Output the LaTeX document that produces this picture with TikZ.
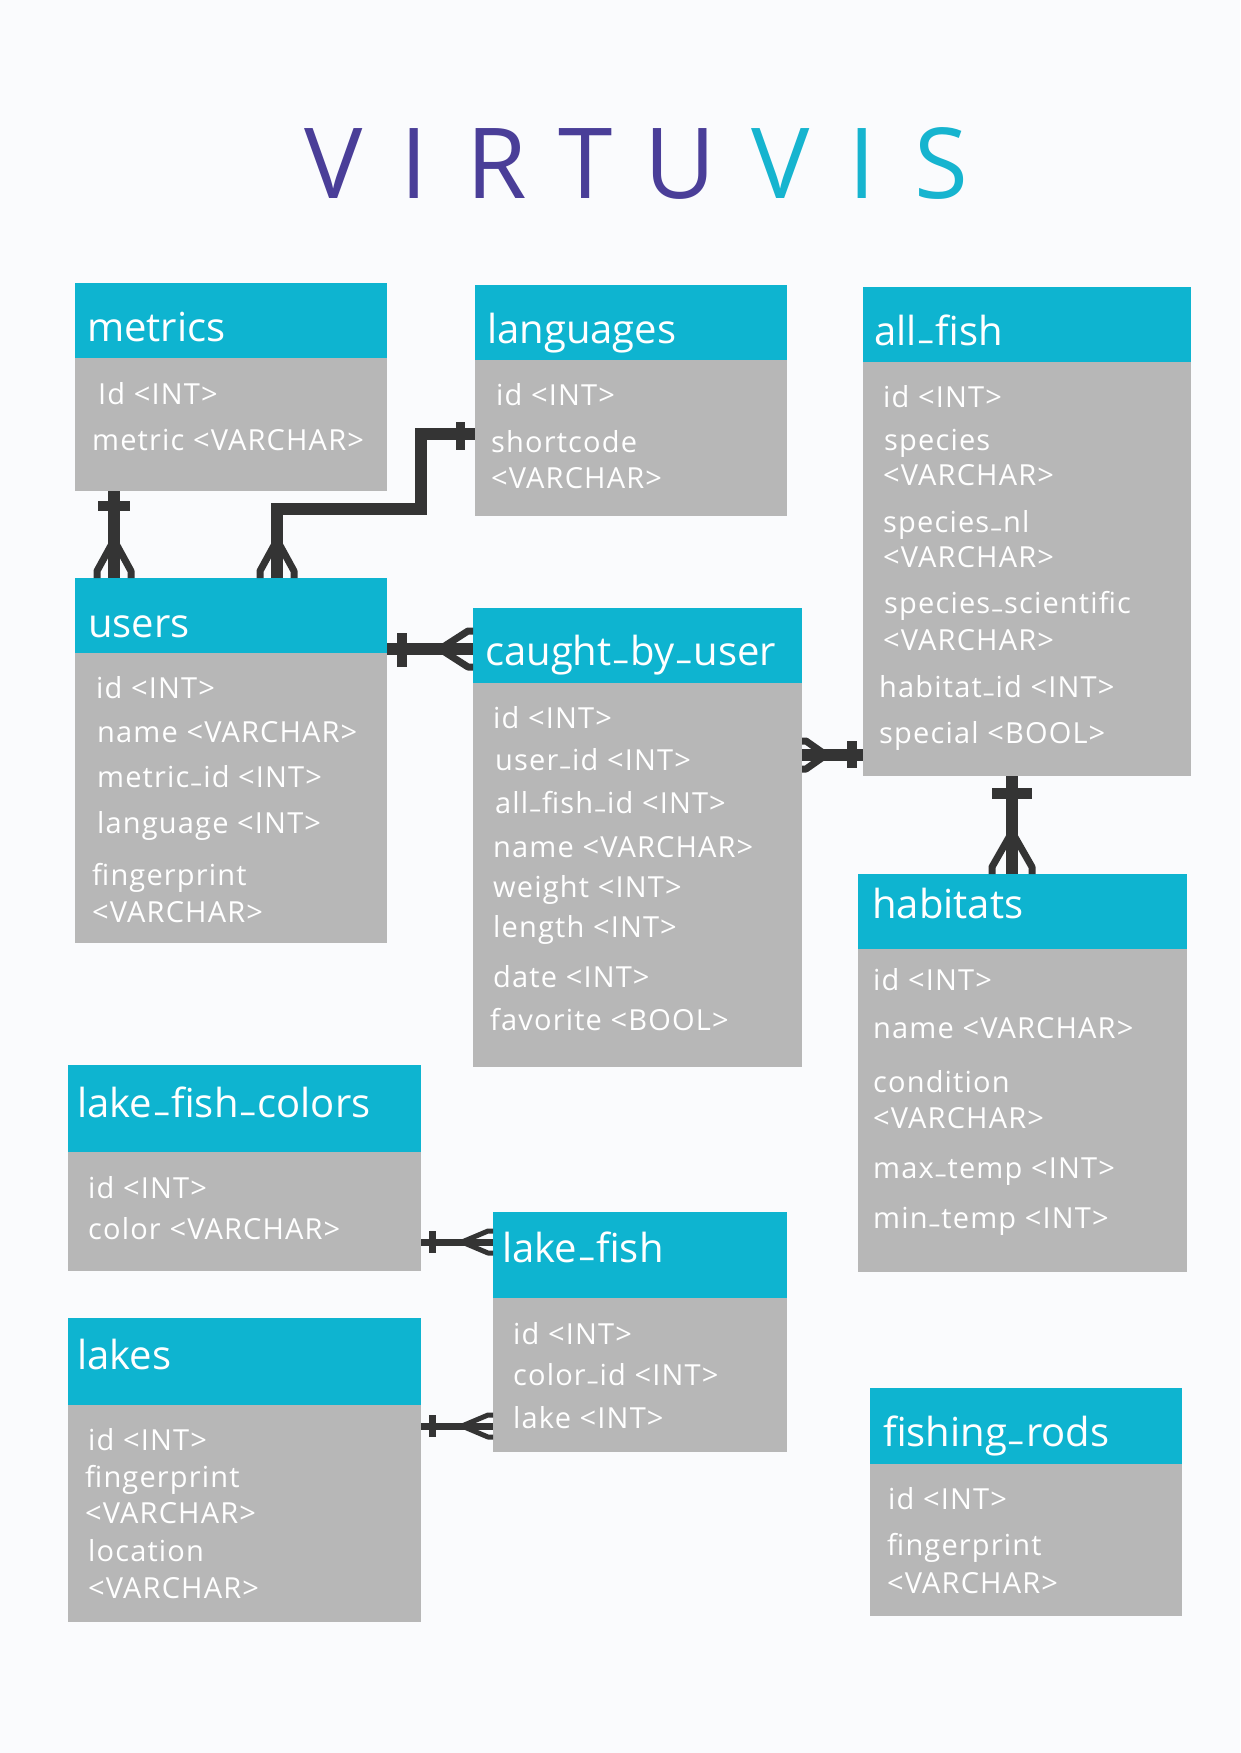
\documentclass[tikz,border=0pt]{standalone}
\usepackage{fontspec}
\setmainfont{Open Sans}
\newfontfamily\hfam{Open Sans}
\newfontfamily\bfam{Open Sans}[LetterSpace=4]
\usetikzlibrary{calc}
\newcommand\us{\kern0.07em\raisebox{0.19em}{\scalebox{0.75}[1]{\_}}\kern0.07em}
\definecolor{headc}{RGB}{14,180,208}
\definecolor{bodyc}{RGB}{183,183,183}
\definecolor{linec}{RGB}{52,52,52}
\definecolor{purp}{RGB}{74,62,152}
\definecolor{ttlc}{RGB}{22,180,207}
\definecolor{bgc}{RGB}{250,251,253}
\begin{document}
\begin{tikzpicture}[x=1pt,y=-1pt,
  hdr/.style={fill=headc,draw=none,inner sep=0pt,outer sep=0pt,anchor=north west},
  bdy/.style={fill=bodyc,draw=none,inner sep=0pt,outer sep=0pt,anchor=north west},
  htxt/.style={text=white,font=\hfam\fontsize{40}{44}\selectfont,anchor=base west,inner sep=0pt},
  ftxt/.style={text=white,font=\bfam\fontsize{29}{32}\selectfont,anchor=base west,inner sep=0pt},
  ttl/.style={font=\hfam\fontsize{98}{100}\selectfont,anchor=base,inner sep=0pt},
  rel/.style={draw=linec,line width=12pt},
  relthin/.style={draw=linec,line width=7pt},
  barmark/.style={draw=linec,line width=10pt},
  barthin/.style={draw=linec,line width=7pt},
  prong/.style={draw=linec,line width=7pt,line join=round},
  prongthin/.style={draw=linec,line width=5pt,line join=round}]
\useasboundingbox (0,0) rectangle (1240,1753);
\fill[bgc] (0,0) rectangle (1240,1753);

% title
\node[ttl,text=purp] (t1) at (334,198) {V};
\node[ttl,text=purp] (t2) at (414,198) {I};
\node[ttl,text=purp] (t3) at (497,198) {R};
\node[ttl,text=purp] (t4) at (586,198) {T};
\node[ttl,text=purp] (t5) at (680,198) {U};
\node[ttl,text=ttlc] (t6) at (781,198) {V};
\node[ttl,text=ttlc] (t7) at (862,198) {I};
\node[ttl,text=ttlc] (t8) at (941,198) {S};

% metrics
\node[hdr,minimum width=312pt,minimum height=75pt] (metricsH) at (75,283) {};
\node[bdy,minimum width=312pt,minimum height=133pt] (metricsB) at (75,358) {};
\node[htxt] (metricsT) at (87,341) {metrics};
\node[ftxt] (metrics1) at (98,404) {Id <INT>};
\node[ftxt] (metrics2) at (92,450) {metric <VARCHAR>};

% languages
\node[hdr,minimum width=312pt,minimum height=75pt] (languagesH) at (475,285) {};
\node[bdy,minimum width=312pt,minimum height=156pt] (languagesB) at (475,360) {};
\node[htxt] (languagesT) at (487,343) {languages};
\node[ftxt] (languages1) at (496,405) {id <INT>};
\node[ftxt] (languages2) at (491,452) {shortcode};
\node[ftxt] (languages3) at (491,488) {<VARCHAR>};

% all_fish
\node[hdr,minimum width=328pt,minimum height=75pt] (allfishH) at (863,287) {};
\node[bdy,minimum width=328pt,minimum height=414pt] (allfishB) at (863,362) {};
\node[htxt] (allfishT) at (874,345) {all\us fish};
\node[ftxt] (allfish1) at (883,407) {id <INT>};
\node[ftxt] (allfish2) at (884,450) {species};
\node[ftxt] (allfish3) at (883,485) {<VARCHAR>};
\node[ftxt] (allfish4) at (883,532) {species\us nl};
\node[ftxt] (allfish5) at (883,567) {<VARCHAR>};
\node[ftxt] (allfish6) at (884,613) {species\us scientific};
\node[ftxt] (allfish7) at (883,650) {<VARCHAR>};
\node[ftxt] (allfish8) at (879,697) {habitat\us id <INT>};
\node[ftxt] (allfish9) at (879,743) {special <BOOL>};

% users
\node[hdr,minimum width=312pt,minimum height=75pt] (usersH) at (75,578) {};
\node[bdy,minimum width=312pt,minimum height=290pt] (usersB) at (75,653) {};
\node[htxt] (usersT) at (88,637) {users};
\node[ftxt] (users1) at (96,698) {id <INT>};
\node[ftxt] (users2) at (97,742) {name <VARCHAR>};
\node[ftxt] (users3) at (97,787) {metric\us id <INT>};
\node[ftxt] (users4) at (97,833) {language <INT>};
\node[ftxt] (users5) at (92,885) {fingerprint};
\node[ftxt] (users6) at (92,922) {<VARCHAR>};

% caught_by_user
\node[hdr,minimum width=329pt,minimum height=75pt] (caughtH) at (473,608) {};
\node[bdy,minimum width=329pt,minimum height=384pt] (caughtB) at (473,683) {};
\node[htxt] (caughtT) at (485,665) {caught\us by\us user};
\node[ftxt] (caught1) at (493,728) {id <INT>};
\node[ftxt] (caught2) at (495,770) {user\us id <INT>};
\node[ftxt] (caught3) at (495,813) {all\us fish\us id <INT>};
\node[ftxt] (caught4) at (493,857) {name <VARCHAR>};
\node[ftxt] (caught5) at (493,897) {weight <INT>};
\node[ftxt] (caught6) at (493,937) {length <INT>};
\node[ftxt] (caught7) at (493,987) {date <INT>};
\node[ftxt] (caught8) at (490,1030) {favorite <BOOL>};

% habitats
\node[hdr,minimum width=329pt,minimum height=75pt] (habitatsH) at (858,874) {};
\node[bdy,minimum width=329pt,minimum height=323pt] (habitatsB) at (858,949) {};
\node[htxt] (habitatsT) at (872,918) {habitats};
\node[ftxt] (habitats1) at (873,990) {id <INT>};
\node[ftxt] (habitats2) at (873,1038) {name <VARCHAR>};
\node[ftxt] (habitats3) at (873,1092) {condition};
\node[ftxt] (habitats4) at (873,1128) {<VARCHAR>};
\node[ftxt] (habitats5) at (873,1178) {max\us temp <INT>};
\node[ftxt] (habitats6) at (873,1228) {min\us temp <INT>};

% lake_fish_colors
\node[hdr,minimum width=353pt,minimum height=87pt] (lfcH) at (68,1065) {};
\node[bdy,minimum width=353pt,minimum height=119pt] (lfcB) at (68,1152) {};
\node[htxt] (lfcT) at (77,1117) {lake\us fish\us colors};
\node[ftxt] (lfc1) at (88,1198) {id <INT>};
\node[ftxt] (lfc2) at (88,1239) {color <VARCHAR>};

% lake_fish
\node[hdr,minimum width=294pt,minimum height=86pt] (lakefishH) at (493,1212) {};
\node[bdy,minimum width=294pt,minimum height=154pt] (lakefishB) at (493,1298) {};
\node[htxt] (lakefishT) at (502,1262) {lake\us fish};
\node[ftxt] (lakefish1) at (513,1344) {id <INT>};
\node[ftxt] (lakefish2) at (513,1385) {color\us id <INT>};
\node[ftxt] (lakefish3) at (513,1428) {lake <INT>};

% lakes
\node[hdr,minimum width=353pt,minimum height=87pt] (lakesH) at (68,1318) {};
\node[bdy,minimum width=353pt,minimum height=217pt] (lakesB) at (68,1405) {};
\node[htxt] (lakesT) at (77,1369) {lakes};
\node[ftxt] (lakes1) at (88,1450) {id <INT>};
\node[ftxt] (lakes2) at (85,1487) {fingerprint};
\node[ftxt] (lakes3) at (85,1523) {<VARCHAR>};
\node[ftxt] (lakes4) at (88,1561) {location};
\node[ftxt] (lakes5) at (88,1598) {<VARCHAR>};

% fishing_rods
\node[hdr,minimum width=312pt,minimum height=76pt] (rodsH) at (870,1388) {};
\node[bdy,minimum width=312pt,minimum height=152pt] (rodsB) at (870,1464) {};
\node[htxt] (rodsT) at (883,1446) {fishing\us rods};
\node[ftxt] (rods1) at (888,1509) {id <INT>};
\node[ftxt] (rods2) at (887,1555) {fingerprint};
\node[ftxt] (rods3) at (887,1593) {<VARCHAR>};

% ---- connectors ----
% metrics -> users
\draw[rel] ($(metricsB.south west)+(39,0)$) -- ($(usersH.north west)+(39,0)$);
\draw[barmark] (98,506) -- (130,506);
\draw[prong] (114,540) -- (97,571) -- (97,578);
\draw[prong] (114,540) -- (131,571) -- (131,578);

% languages -> users
\draw[rel] ($(usersH.north west)+(202,0)$) -- ++(0,-69) -- ++(144,0) |- ($(languagesB.north west)+(0,74)$);
\draw[barmark,line width=9pt] (460,422) -- (460,450);
\draw[prong] (277,540) -- (260,571) -- (260,578);
\draw[prong] (277,540) -- (294,571) -- (294,578);

% users -> caught_by_user
\draw[rel] ($(usersH.north east)+(0,71)$) -- ($(caughtH.north west)+(0,41)$);
\draw[barmark] (402,633) -- (402,667);
\draw[prong] (440,649) -- (468,631) -- (473,631);
\draw[prong] (440,649) -- (468,667) -- (473,667);

% caught_by_user -> all_fish
\draw[rel] ($(caughtB.north east)+(0,72)$) -- ($(allfishB.north west)+(0,393)$);
\draw[barmark] (852,741) -- (852,768);
\draw[prong] (826,755) -- (806,741) -- (802,741);
\draw[prong] (826,755) -- (806,769) -- (802,769);

% all_fish -> habitats
\draw[rel] ($(allfishB.south west)+(149,0)$) -- ($(habitatsH.north west)+(154,0)$);
\draw[barmark,line width=11pt] (992,793) -- (1032,793);
\draw[prong] (1012,832) -- (992,867) -- (992,874);
\draw[prong] (1012,832) -- (1032,867) -- (1032,874);

% lake_fish_colors -> lake_fish
\draw[relthin] ($(lfcB.north east)+(0,90)$) -- ($(lakefishH.north west)+(0,30)$);
\draw[barthin] (432,1231) -- (432,1253);
\draw[prongthin] (462,1242) -- (488,1231) -- (493,1231);
\draw[prongthin] (462,1242) -- (488,1253) -- (493,1253);

% lakes -> lake_fish
\draw[relthin] ($(lakesB.north east)+(0,21)$) -- ($(lakefishB.north west)+(0,128)$);
\draw[barthin] (432,1415) -- (432,1437);
\draw[prongthin] (462,1426) -- (488,1415) -- (493,1415);
\draw[prongthin] (462,1426) -- (488,1437) -- (493,1437);
\end{tikzpicture}
\end{document}
